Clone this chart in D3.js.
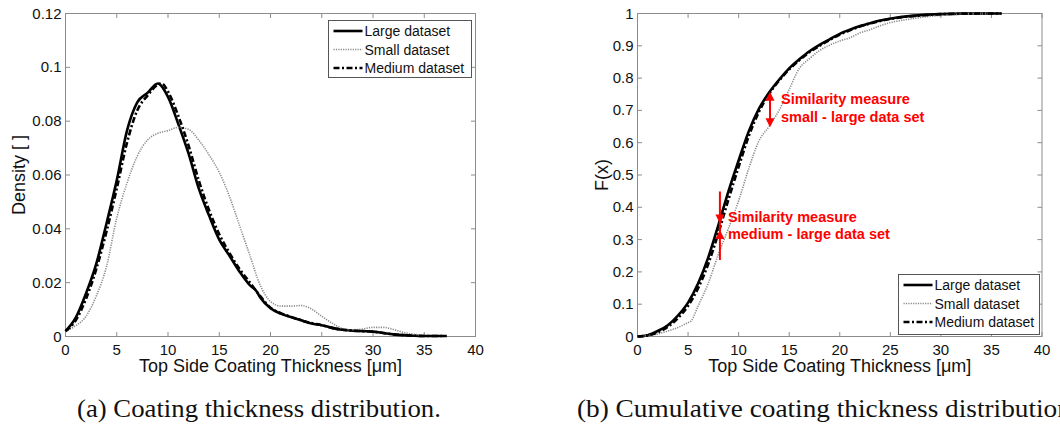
<!DOCTYPE html>
<html>
<head>
<meta charset="utf-8">
<script src="https://cdn.jsdelivr.net/npm/d3@7"></script>
<style>
body { margin: 0; background: #fff; }
text { font-family: "Liberation Sans", Arial, sans-serif; }
</style>
</head>
<body>
<svg id="chart" width="1060" height="428"></svg>
<script>
// tick values
var xTicks = [0, 5, 10, 15, 20, 25, 30, 35, 40];
var densityTicks = [0, 0.02, 0.04, 0.06, 0.08, 0.1, 0.12];
var cdfTicks = [0, 0.1, 0.2, 0.3, 0.4, 0.5, 0.6, 0.7, 0.8, 0.9, 1];
var seriesNames = ["Large dataset", "Small dataset", "Medium dataset"];

// (a) density, [thickness, density]
var densityLarge = [[0,0.002],[1,0.007],[2,0.016],[3,0.027],[4,0.042],[5,0.058],[6,0.0765],[7,0.087],[8,0.0905],[9,0.094],[10,0.089],[11,0.079],[12,0.068],[13,0.055],[14,0.045],[15,0.036],[16,0.030],[17,0.024],[18,0.019],[18.6,0.017],[19,0.0145],[20,0.0105],[21,0.0085],[22,0.0072],[23,0.006],[24,0.0048],[25,0.0042],[26,0.0032],[27,0.0025],[28,0.0022],[29,0.002],[30,0.0018],[31,0.0013],[32,0.0008],[33,0.0005],[34,0.0003],[35,0.0002],[37.2,0.0002]];
var densitySmall = [[0,0.002],[1,0.004],[2,0.0075],[3,0.015],[4,0.026],[5,0.044],[6,0.057],[7,0.067],[8,0.073],[9,0.0755],[10,0.0765],[11,0.0777],[12,0.077],[13,0.073],[14,0.0675],[15,0.061],[16,0.052],[17,0.041],[18,0.030],[19,0.019],[20,0.013],[21,0.0113],[22,0.0113],[23,0.0115],[24,0.0102],[25,0.0075],[26,0.005],[27,0.003],[28,0.0025],[29,0.0028],[30,0.0034],[31,0.0034],[32,0.0026],[33,0.0015],[34,0.0008],[35,0.0003]];
var densityMedium = [[0,0.002],[1,0.006],[2,0.014],[3,0.025],[4,0.039],[5,0.055],[6,0.072],[7,0.084],[8,0.0895],[9,0.0935],[9.4,0.094],[10,0.091],[11,0.082],[12,0.071],[13,0.058],[14,0.047],[15,0.038],[16,0.031],[17,0.025],[18,0.020],[19,0.015],[20,0.0107],[21,0.0087],[22,0.0073],[23,0.006],[24,0.005],[25,0.0042],[26,0.0032],[27,0.0025],[28,0.0022],[29,0.002],[30,0.0018],[31,0.0013],[32,0.0008],[33,0.0005],[34,0.0003],[35,0.0002],[37,0.0002]];

// (b) cumulative, [thickness, F(x)]
var cdfLarge = [[0,0],[1,0.004],[2,0.017],[3,0.035],[4,0.065],[5,0.105],[6,0.165],[7,0.245],[8,0.345],[9,0.45],[10,0.545],[11,0.635],[12,0.705],[13,0.755],[14,0.795],[15,0.83],[16,0.858],[17,0.883],[18,0.903],[19,0.92],[20,0.937],[21,0.95],[22,0.961],[23,0.97],[24,0.978],[26,0.989],[28,0.995],[30,0.998],[32,0.9995],[36,1]];
var cdfSmall = [[0,0],[1,0.003],[2,0.008],[3,0.017],[4,0.028],[5,0.043],[5.3,0.048],[6,0.095],[7,0.165],[8,0.255],[9,0.335],[10,0.42],[11,0.52],[12,0.605],[13,0.65],[14,0.70],[15,0.765],[16,0.83],[17,0.86],[18,0.885],[19,0.902],[20,0.915],[21,0.925],[22,0.94],[23,0.95],[24,0.962],[25,0.972],[26,0.978],[27,0.983],[28,0.988],[30,0.994],[32,0.998],[35,1]];
var cdfMedium = [[0,0],[1,0.003],[2,0.013],[3,0.03],[4,0.057],[5,0.095],[6,0.15],[7,0.225],[8,0.32],[9,0.425],[10,0.525],[11,0.62],[12,0.695],[13,0.75],[14,0.792],[15,0.827],[16,0.855],[17,0.88],[18,0.9],[19,0.918],[20,0.935],[21,0.948],[22,0.96],[23,0.969],[24,0.977],[26,0.988],[28,0.994],[30,0.998],[32,0.9995],[36,1]];

// similarity arrows: [x, yTop, yBottom, tipDown, tipUp]
var arrowUpper = [13.1, 0.758, 0.648];
var arrowLower = [8.15, 0.449, 0.237, 0.35, 0.33];
var noteUpper = ["Similarity measure", "small - large data set"];
var noteLower = ["Similarity measure", "medium - large data set"];
var captions = ["(a) Coating thickness distribution.", "(b) Cumulative coating thickness distribution."];

var styles = [
    {stroke: "#000", width: 2.6, dash: null},
    {stroke: "#8a8a8a", width: 1.6, dash: "1.2,1.2"},
    {stroke: "#000", width: 2.6, dash: "6,2.5,2,2.5"}
];

var svg = d3.select("#chart");

function drawPanel(left, right, yMax, yTicks, yDigits, series, yLabel, labelX) {
    var x = d3.scaleLinear().domain([0, 40]).range([left, right]);
    var y = d3.scaleLinear().domain([0, yMax]).range([336.5, 13.5]);
    var g = svg.append("g");

    // frame
    g.append("rect")
        .attr("x", left)
        .attr("y", 13.5)
        .attr("width", right - left)
        .attr("height", 323)
        .attr("style", "fill:none;stroke:#8c8c8c;stroke-width:1");

    // ticks on all four sides, pointing in
    var tick = "stroke:#8c8c8c;stroke-width:1";
    xTicks.forEach(function (t) {
        g.append("line").attr("x1", x(t)).attr("x2", x(t)).attr("y1", 336.5).attr("y2", 332).attr("style", tick);
        g.append("line").attr("x1", x(t)).attr("x2", x(t)).attr("y1", 13.5).attr("y2", 18).attr("style", tick);
        g.append("text")
            .text(t)
            .attr("x", x(t))
            .attr("y", 355)
            .attr("text-anchor", "middle")
            .attr("font-size", 15)
            .style("fill", "#111");
    });
    yTicks.forEach(function (t) {
        g.append("line").attr("x1", left).attr("x2", left + 4.5).attr("y1", y(t)).attr("y2", y(t)).attr("style", tick);
        g.append("line").attr("x1", right).attr("x2", right - 4.5).attr("y1", y(t)).attr("y2", y(t)).attr("style", tick);
        g.append("text")
            .text(String(+t.toFixed(yDigits)))
            .attr("x", left - 4)
            .attr("y", y(t) + 5)
            .attr("text-anchor", "end")
            .attr("font-size", 15)
            .style("fill", "#111");
    });

    g.append("text")
        .text("Top Side Coating Thickness [μm]")
        .attr("x", (left + right) / 2)
        .attr("y", 372)
        .attr("text-anchor", "middle")
        .attr("font-size", 18)
        .style("fill", "#111");

    g.append("text")
        .text(yLabel)
        .attr("transform", "translate(" + labelX + ",175) rotate(-90)")
        .attr("text-anchor", "middle")
        .attr("font-size", 18)
        .style("fill", "#111");

    var line = d3.line()
        .x(function (d) { return x(d[0]); })
        .y(function (d) { return y(d[1]); })
        .curve(d3.curveMonotoneX);

    series.forEach(function (s, i) {
        g.append("path")
            .datum(s)
            .attr("d", line)
            .attr("fill", "none")
            .attr("stroke", styles[i].stroke)
            .attr("stroke-width", styles[i].width)
            .attr("stroke-dasharray", styles[i].dash)
            .attr("stroke-linejoin", "round");
    });

    return {x: x, y: y, g: g};
}

function drawLegend(bx, by, bw, bh) {
    var g = svg.append("g");
    g.append("rect")
        .attr("x", bx)
        .attr("y", by)
        .attr("width", bw)
        .attr("height", bh)
        .attr("style", "fill:#fff;stroke:#555;stroke-width:1");
    seriesNames.forEach(function (name, i) {
        var cy = by + 10.5 + i * 18.5;
        g.append("line")
            .attr("x1", bx + 5)
            .attr("x2", bx + 34)
            .attr("y1", cy)
            .attr("y2", cy)
            .attr("stroke", styles[i].stroke)
            .attr("stroke-width", styles[i].width)
            .attr("stroke-dasharray", styles[i].dash);
        g.append("text")
            .text(name)
            .attr("x", bx + 36)
            .attr("y", cy + 5)
            .attr("font-size", 14)
            .style("fill", "#111");
    });
}

function arrowHead(g, px, py, dir) {
    // dir = 1 points down, -1 points up
    g.append("path")
        .attr("d", "M" + px + "," + py + " L" + (px - 4.5) + "," + (py - dir * 9) + " L" + (px + 4.5) + "," + (py - dir * 9) + " Z")
        .attr("fill", "#ff0000");
}

function drawNote(g, lines, tx, ty) {
    lines.forEach(function (t, i) {
        g.append("text")
            .text(t)
            .attr("x", tx)
            .attr("y", ty + i * 17.5)
            .attr("font-size", 14.5)
            .attr("font-weight", "bold")
            .style("fill", "#ff0000");
    });
}

// (a)
drawPanel(65.5, 475.5, 0.12, densityTicks, 2, [densityLarge, densitySmall, densityMedium], "Density [ ]", 25);
drawLegend(328.5, 20.5, 143, 57);

// (b)
var b = drawPanel(637.5, 1042, 1, cdfTicks, 1, [cdfLarge, cdfSmall, cdfMedium], "F(x)", 608);
drawLegend(898.5, 274.5, 141, 60);

var red = b.g.append("g");
var ux = b.x(arrowUpper[0]);
red.append("line")
    .attr("x1", ux).attr("x2", ux)
    .attr("y1", b.y(arrowUpper[1]) + 4).attr("y2", b.y(arrowUpper[2]) - 4)
    .attr("style", "stroke:#ff0000;stroke-width:2");
arrowHead(red, ux, b.y(arrowUpper[1]), -1);
arrowHead(red, ux, b.y(arrowUpper[2]), 1);
drawNote(red, noteUpper, ux + 11, 104);

var lx = b.x(arrowLower[0]);
red.append("line")
    .attr("x1", lx).attr("x2", lx)
    .attr("y1", b.y(arrowLower[1])).attr("y2", b.y(arrowLower[2]))
    .attr("style", "stroke:#ff0000;stroke-width:2");
arrowHead(red, lx, b.y(arrowLower[3]), 1);
arrowHead(red, lx, b.y(arrowLower[4]), -1);
drawNote(red, noteLower, lx + 8, 221.5);

// captions, serif and narrow like the typeset original; (b) runs off the right edge as in the source
function caption(text, cx, width) {
    var c = svg.append("text")
        .text(text)
        .attr("x", cx)
        .attr("y", 417)
        .attr("font-size", 25)
        .style("font-family", "'Liberation Serif', serif")
        .style("fill", "#111");
    var k = width / c.node().getComputedTextLength();
    c.attr("transform", "translate(" + cx + ",0) scale(" + k + ",1) translate(" + (-cx) + ",0)");
}
caption(captions[0], 77, 364);
caption(captions[1], 577, 501);
</script>
</body>
</html>
